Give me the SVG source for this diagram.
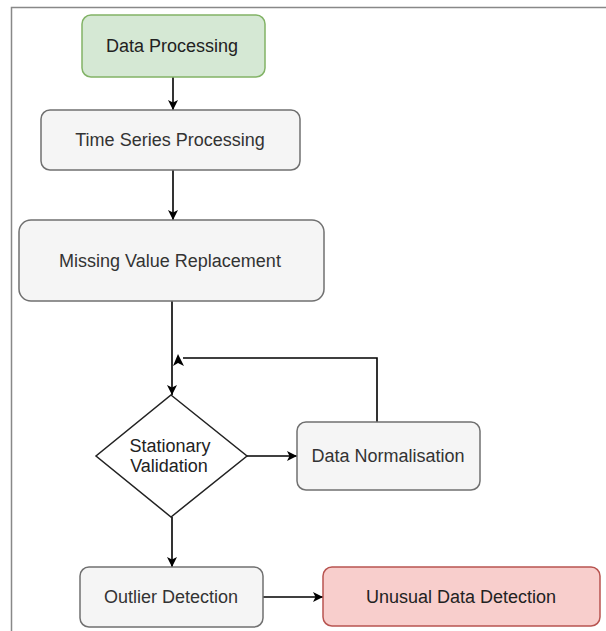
<svg xmlns="http://www.w3.org/2000/svg" width="606" height="631" viewBox="0 0 606 631">
<style>
.box{fill:#f5f5f5;stroke:#707070;stroke-width:1.5}
.green{fill:#d5e8d4;stroke:#82b366;stroke-width:1.5}
.red{fill:#f8cecc;stroke:#b85450;stroke-width:1.5}
.lbl{font-family:"Liberation Sans",Arial,sans-serif;font-size:18px;fill:#333;text-anchor:middle}
.dark{fill:#222}
.edge{fill:none;stroke:#000;stroke-width:1.6}
</style>
<defs>
<marker id="arr" viewBox="0 0 10 10" refX="10" refY="5" markerWidth="10" markerHeight="10" markerUnits="userSpaceOnUse" orient="auto">
<path d="M0,0 L10,5 L0,10 L2.5,5 Z" fill="#000"/>
</marker>
</defs>
<rect width="606" height="631" fill="#fff"/>
<path d="M11.5,631 V7.5 H606" fill="none" stroke="#888" stroke-width="1.5"/>
<g id="connectors">
<path class="edge" d="M173,77 V110" marker-end="url(#arr)"/>
<path class="edge" d="M173,170 V220" marker-end="url(#arr)"/>
<path class="edge" d="M172,301 V395" marker-end="url(#arr)"/>
<path class="edge" d="M377,422 V358 H183"/>
<polygon points="178,354 173,366 178,363 184,366" fill="#000"/>
<path class="edge" d="M247,456 H297" marker-end="url(#arr)"/>
<path class="edge" d="M172,517 V567" marker-end="url(#arr)"/>
<path class="edge" d="M263,597 H323" marker-end="url(#arr)"/>
</g>
<g id="data-processing">
<rect class="green" x="82" y="15" width="183" height="62" rx="9"/>
<text class="lbl dark" x="172" y="52">Data Processing</text>
</g>
<g id="time-series">
<rect class="box" x="41" y="110" width="259" height="60" rx="9"/>
<text class="lbl" x="170" y="146">Time Series Processing</text>
</g>
<g id="missing-value">
<rect class="box" x="19" y="220" width="305" height="81" rx="12"/>
<text class="lbl" x="170" y="267">Missing Value Replacement</text>
</g>
<g id="stationary">
<polygon points="171,395 247,456 171,517 96,456" fill="#fff" stroke="#222" stroke-width="1.5"/>
<text class="lbl dark" x="170" y="452">Stationary</text>
<text class="lbl dark" x="169" y="472">Validation</text>
</g>
<g id="normalisation">
<rect class="box" x="297" y="422" width="183" height="68" rx="9"/>
<text class="lbl" x="388" y="462">Data Normalisation</text>
</g>
<g id="outlier">
<rect class="box" x="80" y="567" width="183" height="60" rx="9"/>
<text class="lbl" x="171" y="603">Outlier Detection</text>
</g>
<g id="unusual">
<rect class="red" x="323" y="567" width="277" height="59" rx="9"/>
<text class="lbl dark" x="461" y="603">Unusual Data Detection</text>
</g>
</svg>
